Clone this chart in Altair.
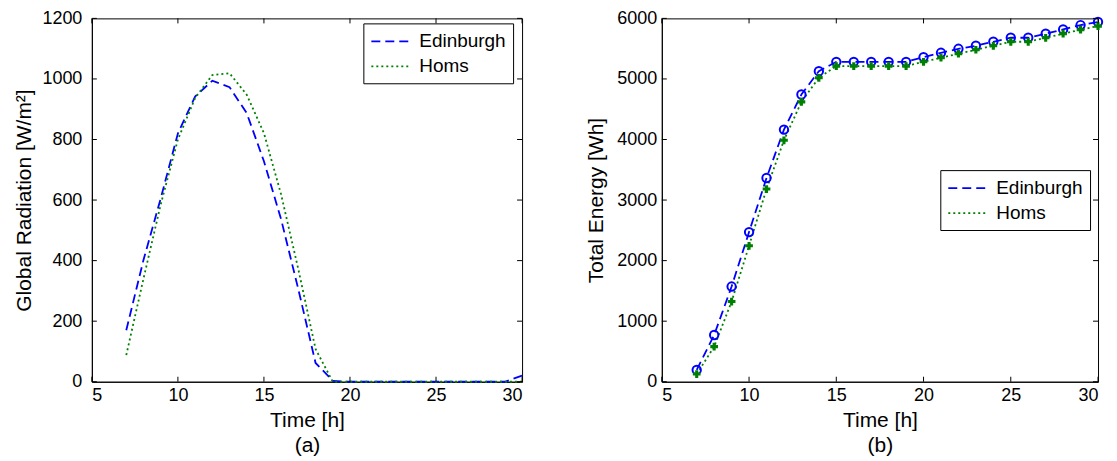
import altair as alt
import pandas as pd

# ---------------- data ----------------
cities = ["Edinburgh", "Homs"]
hours = list(range(7, 31))

rad_edinburgh = [170, 402, 605, 820, 942, 994, 973, 887, 728, 536, 305, 62, 3,
                 0, 0, 0, 0, 0, 0, 0, 0, 0, 0, 20]
rad_homs = [88, 340, 585, 800, 937, 1013, 1019, 948, 821, 618, 371, 108, 0,
            0, 0, 0, 0, 0, 0, 0, 0, 0, 0, 0]

energy_edinburgh = [195, 772, 1572, 2471, 3364, 4164, 4743, 5129, 5283, 5283,
                    5283, 5283, 5283, 5361, 5432, 5498, 5548, 5614, 5680, 5680,
                    5747, 5818, 5890, 5940]
energy_homs = [127, 579, 1324, 2245, 3182, 3987, 4622, 5019, 5212, 5212,
               5212, 5212, 5212, 5283, 5350, 5416, 5482, 5548, 5614, 5614,
               5680, 5747, 5813, 5873]

x_ticks = [5, 10, 15, 20, 25, 30]
y_ticks_a = [0, 200, 400, 600, 800, 1000, 1200]
y_ticks_b = [0, 1000, 2000, 3000, 4000, 5000, 6000]

colors = ["#0000ff", "#008000"]
dashes = [[9, 5], [2, 3]]

FONT = "Liberation Sans"
H = 364


def table(a, b):
    return pd.DataFrame({
        "t": hours * 2,
        "v": a + b,
        "city": [cities[0]] * len(a) + [cities[1]] * len(b),
    })


def panel(df, y_ticks, ytitle, caption, W, leg_x, leg_y, lab_pad, title_pad, markers):
    xs = alt.Scale(domain=[5, 30], nice=False, zero=False)
    ys = alt.Scale(domain=[y_ticks[0], y_ticks[-1]], nice=False)
    x_axis = alt.Axis(values=x_ticks, title=["Time [h]", caption], ticks=False,
                      domain=True, domainColor="black", domainWidth=1, grid=False,
                      labelPadding=5, titlePadding=5, titleLineHeight=25, format="d")
    y_axis = alt.Axis(values=y_ticks, title=ytitle, ticks=False, domain=True,
                      domainColor="black", domainWidth=1, grid=False, format="d",
                      labelPadding=lab_pad, titlePadding=title_pad)
    X = alt.X("t:Q", scale=xs, axis=x_axis, title=["Time [h]", caption])
    Y = alt.Y("v:Q", scale=ys, axis=y_axis, title=ytitle)
    legend = alt.Legend(orient="none", legendX=leg_x, legendY=leg_y, title=None,
                        symbolType="M-1,0H3", symbolSize=400, symbolStrokeWidth=1.8,
                        labelFontSize=19, labelFont=FONT, rowPadding=4,
                        padding=7, strokeColor="black", fillColor="white",
                        labelOffset=27, cornerRadius=0, labelColor="black")
    color = alt.Color("city:N", scale=alt.Scale(domain=cities, range=colors), legend=legend)
    dash = alt.StrokeDash("city:N", scale=alt.Scale(domain=cities, range=dashes), legend=legend)

    lines = alt.Chart(df).mark_line(strokeWidth=1.8).encode(
        x=X, y=Y, color=color, strokeDash=dash, order=alt.Order("t:Q"),
    )
    layers = [lines]
    if markers:
        pe = alt.Chart(df).transform_filter(alt.datum.city == cities[0]).mark_point(
            shape="circle", size=70, filled=False, strokeWidth=2, color=colors[0], opacity=1
        ).encode(x=X, y=Y)
        ph = alt.Chart(df).transform_filter(alt.datum.city == cities[1]).mark_point(
            shape="cross", size=60, filled=True, color=colors[1], opacity=1
        ).encode(x=X, y=Y)
        layers += [pe, ph]

    dxt = pd.DataFrame({"t": x_ticks})
    dyt = pd.DataFrame({"v": y_ticks})
    tb = alt.Chart(dxt).mark_rule(color="black", strokeWidth=1).encode(
        x=X, y=alt.value(H), y2=alt.value(H - 5))
    tt = alt.Chart(dxt).mark_rule(color="black", strokeWidth=1).encode(
        x=X, y=alt.value(0), y2=alt.value(5))
    tl = alt.Chart(dyt).mark_rule(color="black", strokeWidth=1).encode(
        y=Y, x=alt.value(0), x2=alt.value(5))
    tr = alt.Chart(dyt).mark_rule(color="black", strokeWidth=1).encode(
        y=Y, x=alt.value(W - 5), x2=alt.value(W))
    layers += [tb, tt, tl, tr]
    return alt.layer(*layers).properties(
        width=W, height=H, view=alt.ViewBackground(stroke="black", strokeWidth=1)
    )


left = panel(table(rad_edinburgh, rad_homs), y_ticks_a, "Global Radiation [W/m²]", "(a)",
             431, 272, 5, 10, 7, False)
right = panel(table(energy_edinburgh, energy_homs), y_ticks_b, "Total Energy [Wh]", "(b)",
              437, 279, 152, 5, 10, True)

chart = alt.hconcat(left, right, spacing=58).resolve_scale(
    color="independent", strokeDash="independent"
).properties(
    padding={"left": 5, "top": 0, "right": 2, "bottom": 0}
).configure(background="white").configure_view(
    stroke="black", strokeWidth=1
).configure_axis(
    labelFont=FONT, labelFontSize=18, labelColor="black",
    titleFont=FONT, titleFontSize=21, titleFontWeight="normal", titleColor="black"
)

chart.save("out.html", embed_options={"renderer": "svg", "actions": False})
